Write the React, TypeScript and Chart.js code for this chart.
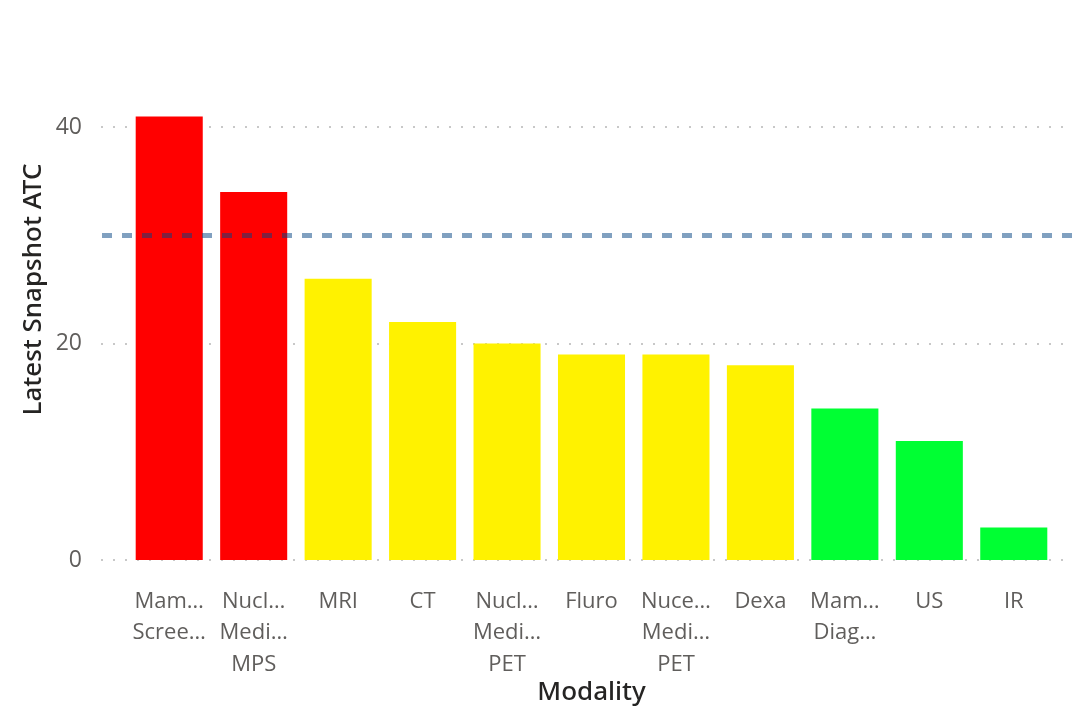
import React, { useEffect, useRef } from "react";
import { Chart, registerables } from "chart.js";

Chart.register(...registerables);

const categories: (string | string[])[] = [
  ["Mam…", "Scree…"],
  ["Nucl…", "Medi…", "MPS"],
  "MRI",
  "CT",
  ["Nucl…", "Medi…", "PET"],
  "Fluro",
  ["Nuce…", "Medi…", "PET"],
  "Dexa",
  ["Mam…", "Diag…"],
  "US",
  "IR",
];
const atcValues = [41, 34, 26, 22, 20, 19, 19, 18, 14, 11, 3];
const barColors = [
  "#FF0000", "#FF0000",
  "#FFF200", "#FFF200", "#FFF200", "#FFF200", "#FFF200", "#FFF200",
  "#00FF33", "#00FF33", "#00FF33",
];
const yTicks = [0, 20, 40];
const referenceValue = 30;

const FONT = "'Open Sans', 'Noto Sans', sans-serif";
const TITLE_FONT = "'Noto Sans', sans-serif";

const overlayPlugin = {
  id: "overlay",
  beforeDatasetsDraw(chart: any) {
    const { ctx, chartArea } = chart;
    const y = chart.scales.y;
    ctx.save();
    ctx.strokeStyle = "rgba(200,200,200,1)";
    ctx.lineWidth = 2;
    ctx.setLineDash([2, 10]);
    yTicks.forEach((v) => {
      const py = Math.round(y.getPixelForValue(v));
      ctx.beginPath();
      ctx.moveTo(chartArea.left - 26, py);
      ctx.lineTo(chartArea.right + 10, py);
      ctx.stroke();
    });
    ctx.restore();
  },
  afterDatasetsDraw(chart: any) {
    const { ctx, chartArea, width } = chart;
    const y = chart.scales.y;
    const py = y.getPixelForValue(referenceValue);
    ctx.save();
    ctx.strokeStyle = "rgba(1,65,129,0.5)";
    ctx.lineWidth = 5;
    ctx.setLineDash([10, 10]);
    ctx.beginPath();
    ctx.moveTo(chartArea.left - 25, py);
    ctx.lineTo(width, py);
    ctx.stroke();
    ctx.restore();
  },
};

export default function App() {
  const ref = useRef<HTMLCanvasElement | null>(null);
  useEffect(() => {
    document.body.style.margin = "0";
    if (!ref.current) return;
    const chart = new Chart(ref.current, {
      type: "bar",
      data: {
        labels: categories,
        datasets: [
          {
            data: atcValues,
            backgroundColor: barColors,
            borderWidth: 0,
            barPercentage: 0.794,
            categoryPercentage: 1,
          },
        ],
      },
      options: {
        animation: false,
        responsive: true,
        maintainAspectRatio: false,
        layout: { padding: { top: 19, right: 16, left: 0, bottom: 0 } },
        plugins: { legend: { display: false }, tooltip: { enabled: false } },
        scales: {
          x: {
            grid: { display: false, drawTicks: false },
            border: { display: false },
            ticks: {
              color: "#605E5C",
              font: { family: FONT, size: 22, lineHeight: 1.43 },
              padding: 26,
              maxRotation: 0,
              autoSkip: false,
            },
            title: {
              display: true,
              text: "Modality",
              color: "#252423",
              font: { family: TITLE_FONT, size: 26, weight: "500" },
              padding: { top: 0, bottom: 4 },
            },
            afterFit(scale: any) {
              scale.height = 152;
              scale.paddingLeft = 0;
              scale.paddingRight = 0;
            },
          },
          y: {
            min: 0,
            max: 50,
            grid: { display: false, drawTicks: false },
            border: { display: false },
            ticks: {
              stepSize: 20,
              color: "#605E5C",
              font: { family: FONT, size: 23 },
              padding: 45,
            },
            afterBuildTicks(scale: any) {
              scale.ticks = yTicks.map((v) => ({ value: v }));
            },
            title: {
              display: true,
              text: "Latest Snapshot ATC",
              color: "#252423",
              font: { family: TITLE_FONT, size: 26, weight: "500" },
              padding: { top: 18, bottom: 0 },
            },
            afterFit(scale: any) {
              scale.width = 127;
              scale.paddingTop = 0;
              scale.paddingBottom = 0;
            },
          },
        },
      },
      plugins: [overlayPlugin],
    });
    return () => chart.destroy();
  }, []);
  return (
    <div style={{ position: "fixed", left: 0, top: 0, width: 1072, height: 712 }}>
      <canvas ref={ref} />
    </div>
  );
}
